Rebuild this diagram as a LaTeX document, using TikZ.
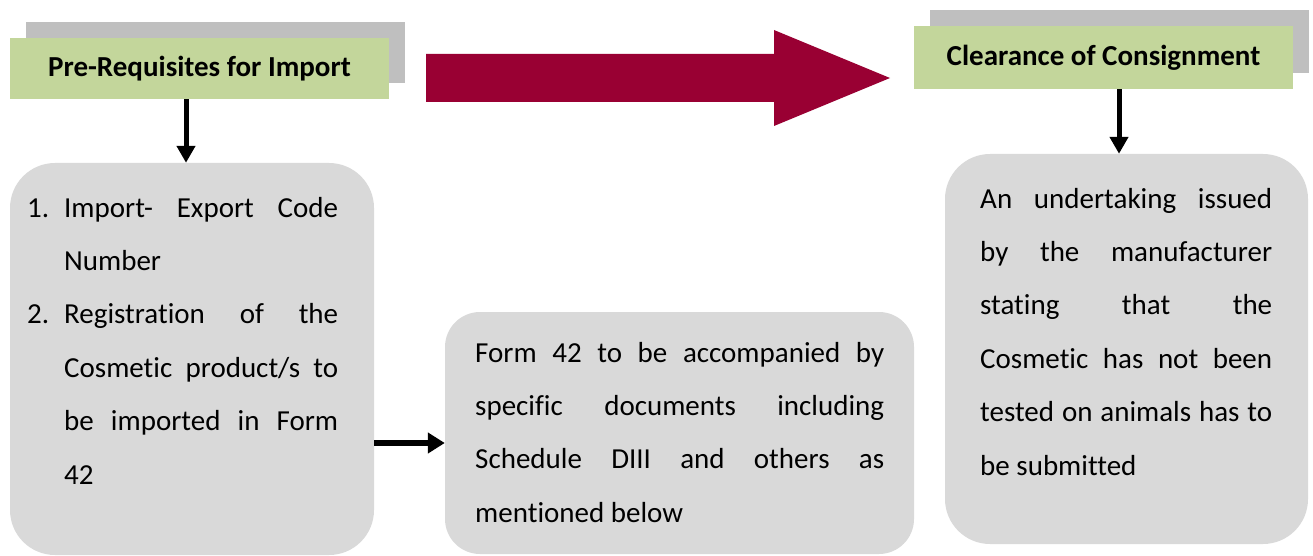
\documentclass[tikz,border=0pt]{standalone}
\usepackage{fontspec}
\setmainfont[Ligatures={NoCommon}]{Carlito}
\usetikzlibrary{arrows.meta}
\definecolor{titlegreen}{RGB}{195,214,155}
\definecolor{shadowgrey}{RGB}{191,191,191}
\definecolor{boxgrey}{RGB}{217,217,217}
\definecolor{flowred}{RGB}{153,0,51}
% one justified line of a given width: all word spaces stretch alike
\newcommand\justline[2]{\hbox to #1{\spaceskip=0.226em plus 1fil\relax #2}}
% a line of the numbered list: label column, then the line itself
\newcommand\itemline[2]{\hbox{\hbox to 37pt{#1\hfil}#2}}
\begin{document}
\begin{tikzpicture}[x=1pt,y=-1pt,
  bodyfont/.style={font=\fontsize{29}{53.4}\selectfont},
  shadowbox/.style={fill=shadowgrey, minimum width=379pt, inner sep=0pt},
  titlebox/.style={fill=titlegreen, minimum width=379pt, inner sep=0pt,
    font=\fontsize{29}{35}\selectfont\bfseries},
  infobox/.style={fill=boxgrey, inner sep=0pt},
  textblock/.style={bodyfont, inner sep=0pt, anchor=base west},
  darr/.style={line width=5pt, -{Triangle[width=18pt,length=17pt]}},
  harr/.style={line width=5.5pt, -{Triangle[width=20pt,length=17pt]}}
]
\useasboundingbox (0,0) rectangle (1313,556);

% title boxes with their offset shadows
\node[shadowbox, minimum height=61pt] (s1) at (215.5,52.5) {};
\node[titlebox, minimum height=61pt] (g1) at (199.5,68.5) {Pre-Requisites for Import};
\node[shadowbox, minimum height=63pt] (s2) at (1119.5,41.5) {};
\node[titlebox, minimum height=63pt] (g2) at (1103.5,57.5) {Clearance of Consignment};

% block arrow between the two stages
\fill[flowred] (426,54) -- (774,54) -- (774,30) -- (890,78) -- (774,126)
  -- (774,102) -- (426,102) -- cycle;

% grey rounded boxes
\node[infobox, minimum width=364pt, minimum height=392pt, rounded corners=45pt] (b1) at (192,359) {};
\node[infobox, minimum width=469pt, minimum height=242pt, rounded corners=35pt] (b2) at (679.5,433) {};
\node[infobox, minimum width=363pt, minimum height=390pt, rounded corners=45pt] (b3) at (1126.5,349) {};

% box texts
\node[textblock] (t1) at (27,217) {\vtop{%
  \itemline{1.}{\justline{274pt}{Import- Export Code}}
  \itemline{}{\hbox{Number}}
  \itemline{2.}{\justline{274pt}{Registration of the}}
  \itemline{}{\justline{274pt}{Cosmetic product/s to}}
  \itemline{}{\justline{274pt}{be imported in Form}}
  \itemline{}{\hbox{42}}}};
\node[textblock] (t2) at (475,362) {\vtop{%
  \justline{409pt}{Form 42 to be accompanied by}
  \justline{409pt}{specific documents including}
  \justline{409pt}{Schedule DIII and others as}
  \hbox{mentioned below}}};
\node[textblock] (t3) at (980,208) {\vtop{%
  \justline{292pt}{An undertaking issued}
  \justline{292pt}{by the manufacturer}
  \justline{292pt}{stating that the}
  \justline{292pt}{Cosmetic has not been}
  \justline{292pt}{tested on animals has to}
  \hbox{be submitted}}};

% connectors
\draw[darr] ([xshift=-13.5pt]g1.south) -- ([xshift=-6pt]b1.north);
\draw[darr] ([xshift=15.5pt]g2.south) -- ([xshift=-7.5pt]b3.north);
\draw[harr] ([yshift=-84pt]b1.east) coordinate (h0) -- (h0 -| b2.west);
\end{tikzpicture}
\end{document}
